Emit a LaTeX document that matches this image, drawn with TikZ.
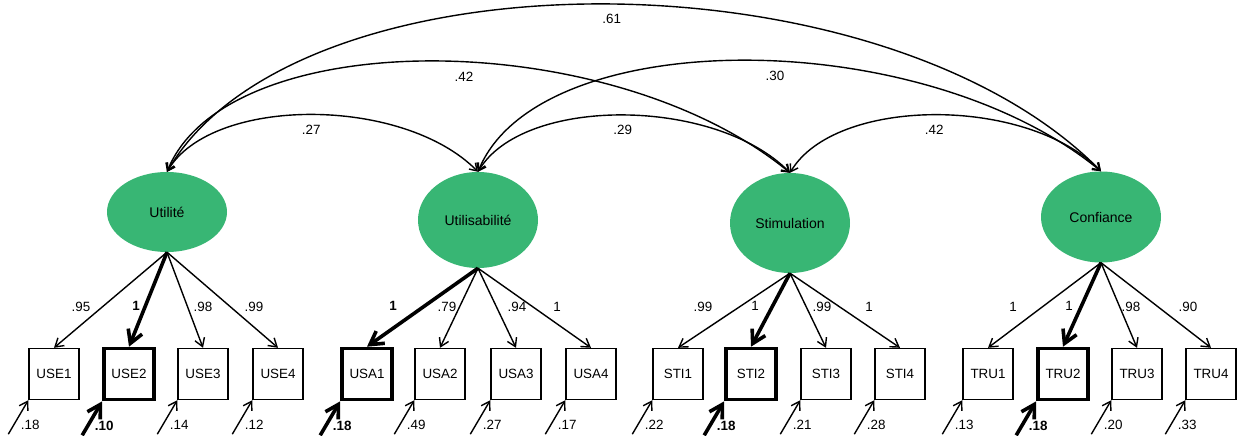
\documentclass[tikz,border=0pt]{standalone}
\usepackage{fontspec}
\setmainfont{Liberation Sans}
\usepackage{xcolor}
\usepackage{tikz}
\usetikzlibrary{calc, arrows.meta, shapes.geometric}
\definecolor{latGreen}{HTML}{38B674}

\begin{document}
\begin{tikzpicture}[x=1pt, y=-1pt, font=\fontsize{13.4}{16}\selectfont,
    latent/.style={ellipse, fill=latGreen, minimum width=120pt, inner sep=0pt,
        font=\fontsize{14}{16}\selectfont},
    obsbox/.style={draw, line width=#1, minimum width=50pt, minimum height=51pt, inner sep=0pt},
    load/.style={->, >={Straight Barb[length=5pt 2.2, width=7pt 2.2]}, line width=#1},
    cov/.style={<->, >={Straight Barb[length=7pt, width=9pt]}, line width=1.4pt}]
    \useasboundingbox (0,0) rectangle (1237,436);
    \foreach \f/\x/\y/\h/\name in {util/167/212/80pt/Utilité, usab/478/220/96pt/Utilisabilité,
        stim/790/223/100pt/Stimulation, conf/1101/217/91pt/Confiance}
        \node[latent, minimum height=\h] (\f) at (\x,\y) {\name};
    \foreach \ind/\x/\f/\lam/\dx/\e/\lw in {
        USE1/54/util/.95/27/.18/1.4, USE2/129/util/\textbf{1}/7/\textbf{.10}/3.6,
        USE3/203/util/.98/0/.14/1.4, USE4/278/util/.99/-24/.12/1.4,
        USA1/367/usab/\textbf{1}/26/\textbf{.18}/3.6, USA2/440/usab/.79/7/.49/1.4,
        USA3/516/usab/.94/1/.27/1.4, USA4/591/usab/1/-34/.17/1.4,
        STI1/678/stim/.99/25/.22/1.4, STI2/751/stim/1/4/\textbf{.18}/3.6,
        STI3/826/stim/.99/-4/.21/1.4, STI4/900/stim/1/-31/.28/1.4,
        TRU1/988/conf/1/25/.13/1.4, TRU2/1063/conf/1/6/\textbf{.18}/3.6,
        TRU3/1137/conf/.98/-6/.20/1.4, TRU4/1211/conf/.90/-23/.33/1.4} {
        \node[obsbox=\lw] (\ind) at (\x,374) {\ind};
        \draw[load=\lw] (\f.south) -- (\ind.north);
        \node (l\ind) at ($(\ind.north)+(\dx,-41)$) {\lam};
        \coordinate (e\ind) at ($(\ind.south west)+(-20,34)$);
        \draw[load=\lw] (e\ind) -- (\ind.south west);
        \node (r\ind) at ($(\ind.south west)+(2,25)$) {\e};
    }
    \foreach \a/\b/\c/\ca/\cb/\cy/\p in {util/usab/.27/45/75/76/.5, usab/stim/.29/45/75/76/.5,
        stim/conf/.42/45/75/76/.5, util/stim/.42/60/180/148/.54,
        usab/conf/.30/60/180/148/.54, util/conf/.61/130/220/223/.51}
        \draw[cov] (\a.north) .. controls +(\ca,-\cy) and +(-\cb,-\cy) .. (\b.north)
            node[pos=\p, below=6pt] {\c};
\end{tikzpicture}
\end{document}
